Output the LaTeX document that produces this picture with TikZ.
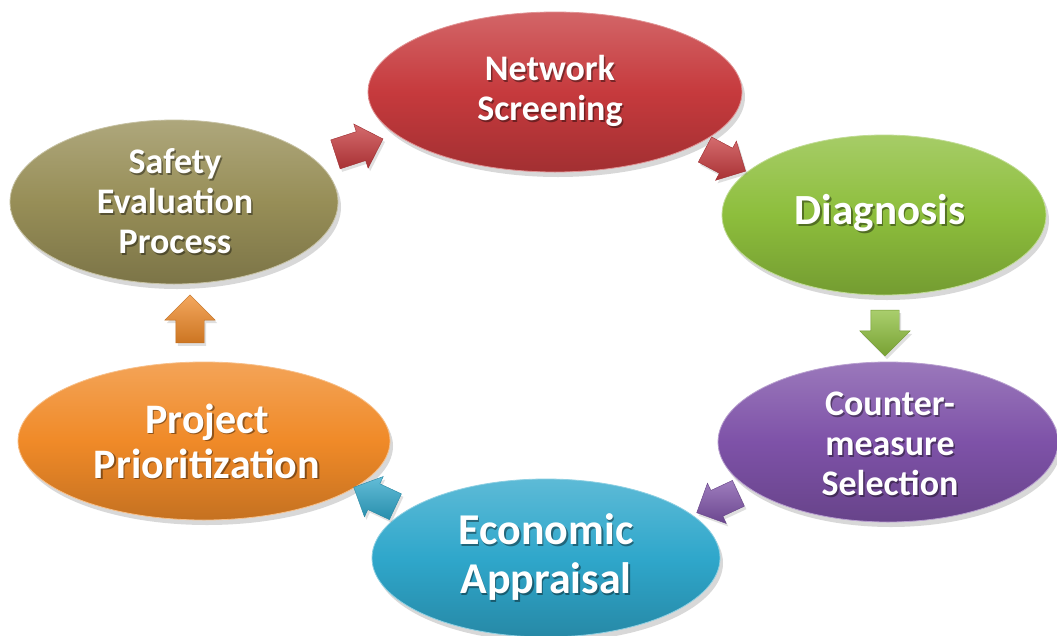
\documentclass[tikz,border=0pt]{standalone}
\usepackage{fontspec}
\setmainfont{Carlito}
\usetikzlibrary{shapes.geometric,shapes.arrows,shadows}
\definecolor{cred}{HTML}{C63A3D}
\definecolor{cgreen}{HTML}{8DBE3C}
\definecolor{cpurple}{HTML}{7E52A8}
\definecolor{cblue}{HTML}{2FA7CB}
\definecolor{corange}{HTML}{F08A28}
\definecolor{colive}{HTML}{978E57}
\tikzset{
  stageshape/.style={ellipse, inner sep=0pt,
    top color=#1!78!white, bottom color=#1!82!black, middle color=#1,
    draw=#1!55!white, line width=0.8pt,
    drop shadow={opacity=0.3, shadow xshift=3pt, shadow yshift=-5pt}},
  lbl/.style={text=white, align=center},
  lblsh/.style={text=black, opacity=0.4, align=center},
  blockarrow/.style={single arrow, inner xsep=0pt, inner ysep=15pt,
    minimum height=50pt, single arrow head extend=8pt,
    top color=#1!75!white, bottom color=#1!85!black,
    draw=#1!80!black, line width=0.4pt,
    drop shadow={opacity=0.25, shadow xshift=2pt, shadow yshift=-3pt}},
}
\newcommand\stagetext[6]{%
  \node[lblsh, font=\bfseries\fontsize{#4pt}{#5pt}\selectfont] (#1-sh) at (#2+1.5,#3+1.8) {#6};
  \node[lbl, font=\bfseries\fontsize{#4pt}{#5pt}\selectfont] (#1-t) at (#2,#3) {#6};
}
\begin{document}
\begin{tikzpicture}[x=1pt,y=-1pt]
\useasboundingbox (0,0) rectangle (1057,635);
\fill[white] (0,0) rectangle (1057,635);
% stages
\node[stageshape=cred, minimum width=374pt, minimum height=160pt] (ns) at (555,92) {};
\node[stageshape=cgreen, minimum width=324pt, minimum height=160pt] (dg) at (884,215) {};
\node[stageshape=cpurple, minimum width=340pt, minimum height=160pt] (cm) at (888,442) {};
\node[stageshape=cblue, minimum width=348pt, minimum height=158pt] (ea) at (546,558) {};
\node[stageshape=corange, minimum width=372pt, minimum height=158pt] (pp) at (204,441) {};
\node[stageshape=colive, minimum width=328pt, minimum height=164pt] (se) at (174,202) {};
% labels
\stagetext{ns}{550}{91}{36}{40}{Network\\Screening}
\stagetext{dg}{880}{213}{43}{48}{Diagnosis}
\stagetext{cm}{890}{444}{36}{40}{Counter-\\measure\\Selection}
\stagetext{ea}{546}{557}{44}{49}{Economic\\Appraisal}
\stagetext{pp}{207}{441}{42}{45}{Project\\Prioritization}
\stagetext{se}{175}{201}{36}{40}{Safety\\Evaluation\\Process}
% block arrows
\node[blockarrow=cred, rotate=18] (a1) at (352,149) {};
\node[blockarrow=cred, rotate=-28, minimum height=46pt, inner ysep=14pt] (a2) at (719,157) {};
\node[blockarrow=cgreen, rotate=-90, minimum height=46pt, inner ysep=14pt, single arrow head extend=11pt] (a3) at (885,326) {};
\node[blockarrow=cpurple, rotate=205, minimum height=46pt, inner ysep=14pt] (a4) at (724,500) {};
\node[blockarrow=cblue, rotate=155, minimum height=46pt, inner ysep=14pt] (a5) at (381,500) {};
\node[blockarrow=corange, rotate=90, minimum height=48pt, inner ysep=14pt, single arrow head extend=11pt] (a6) at (190,326) {};
\end{tikzpicture}
\end{document}
